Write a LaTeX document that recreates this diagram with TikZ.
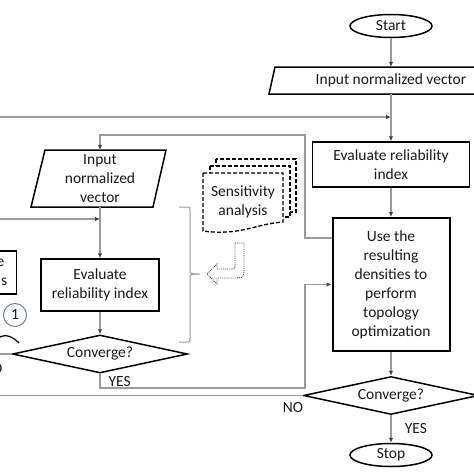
\documentclass[tikz,border=0pt]{standalone}
\usepackage{fontspec}
\setmainfont{Carlito}
\usetikzlibrary{arrows.meta,shapes.geometric,calc}
\definecolor{lgray}{RGB}{155,155,155}
\definecolor{txt}{RGB}{25,25,25}
\definecolor{circ}{RGB}{110,125,155}
\begin{document}
\begin{tikzpicture}[x=1pt,y=-1pt,
  every node/.style={font=\fontsize{15.5}{19}\selectfont, text=txt},
  box/.style={draw=black, line width=1.5pt, rectangle, inner sep=0pt, align=center},
  txtnode/.style={draw=none, inner sep=0pt, align=center},
  term/.style={draw=black, line width=1.5pt, ellipse, minimum width=82pt, minimum height=23pt, inner sep=0pt},
  dec/.style={draw=black, line width=1.5pt, diamond, aspect=4.6, minimum width=175pt, minimum height=38pt, inner sep=0pt},
  conn/.style={draw=lgray, line width=1.1pt, -{Latex[length=5pt,width=4.5pt,color=black!75]}},
  link/.style={draw=lgray, line width=1.1pt},
  para/.style={draw=black, line width=1.5pt},
  docdash/.style={draw=black, dash pattern=on 4pt off 2pt, line width=1.3pt, fill=white},
  uarrow/.style={draw=black!70, densely dotted, line width=0.9pt}]
\useasboundingbox (0,0) rectangle (474,474);
\clip (0,0) rectangle (474,474);

% right column
\node[term] (start) at (391,26) {Start};
\draw[para] (275,67) -- (520,67) -- (514,94) -- (269,94) -- cycle;
\node[txtnode, minimum width=150pt, minimum height=27pt] (inR) at (391,80.5) {Input normalized vector};
\node[box, minimum width=157pt, minimum height=45pt] (evalR) at (391,164.5) {Evaluate reliability\\index};
\node[box, line width=2pt, minimum width=117pt, minimum height=133pt] (use) at (391,284.5) {Use the\\resulting\\densities to\\perform\\topology\\optimization};
\node[dec] (decR) at (391,395.5) {Converge?};
\node[term] (stop) at (391,455) {Stop};
\node (noR) at (293,408) {NO};

% left column
\draw[para] (45,150) -- (166,150) -- (153,207) -- (31,207) -- cycle;
\node[txtnode, minimum width=100pt, minimum height=57pt] (inL) at (100,178.5) {Input\\normalized\\vector};
\node[box, minimum width=118pt, minimum height=52pt] (evalL) at (100,285) {Evaluate\\reliability index};
\node[dec] (decL) at (100,354) {Converge?};
\node[anchor=west] (yesL) at (105,382) {YES};
\node[anchor=east] (noL) at (6,369) {NO};

% cut-off box, circle and curve at the left edge
\node[box, minimum width=80pt, minimum height=43pt, anchor=north east] (cut) at (17,250) {};
\node[txtnode, anchor=east] (cuttxtA) at (4.5,263) {e};
\node[txtnode, anchor=east] (cuttxtB) at (7.5,282) {s};
\node[circle, draw=circ, line width=1pt, minimum size=23pt, inner sep=0pt] (one) at (15,315) {1};
\draw[black, line width=1.2pt] (-2,338) .. controls (6,333) and (13,337) .. (19,343);

% sensitivity analysis documents
\draw[docdash] (216,159) rectangle (296,212);
\draw[docdash] (210,166) rectangle (290,217);
\draw[docdash] (203,173) -- (283,173) -- (283,222) .. controls (255,224) and (240,236) .. (203,231) -- cycle;
\node[txtnode] (sens) at (243,202) {Sensitivity\\analysis};

% hollow dotted U-turn arrow
\draw[uarrow] (235,243) -- (244,243) -- (244,266) .. controls (244,278) .. (232,278) -- (217,278) -- (217,284) -- (207,274) -- (217,264) -- (217,269) -- (230,269) .. controls (235,269) .. (235,264) -- cycle;

% brace
\draw[lgray, line width=1pt] (179,207) -- (186,207) .. controls (190,207) .. (190,211) -- (190,269) .. controls (190,274) .. (200,274) .. controls (190,274) .. (190,279) -- (190,338) .. controls (190,342) .. (186,342) -- (179,342);

% coordinates for loops
\coordinate (outL) at (-10,300);
\coordinate (mergeR) at (391,117);
\coordinate (useA) at ([yshift=-21pt]use.north west);
\coordinate (cornerA) at (305,135);
\coordinate (cornerB) at (305,388);
\coordinate (offA) at (-10,219);
\coordinate (mergeL) at (100,219);
\coordinate (offB) at (-10,354);

% connectors
\draw[conn] (start) -- (inR);
\draw[conn] (inR) -- (evalR);
\draw[conn] (evalR) -- (use);
\draw[conn] (use) -- (decR);
\draw[conn] (decR) -- (stop) node[midway, anchor=west, xshift=10pt] {YES};
\draw[conn] (decR.west) -| (outL) |- (mergeR);
\draw[conn] (useA) -| (cornerA) -| (inL.north);
\draw[conn] (decL.south) |- (cornerB) |- (use.west);
\draw[conn] (inL) -- (evalL);
\draw[conn] (evalL) -- (decL);
\draw[conn] (offA) -- (mergeL);
\draw[link] (decL.west) -- (offB);
\end{tikzpicture}
\end{document}
